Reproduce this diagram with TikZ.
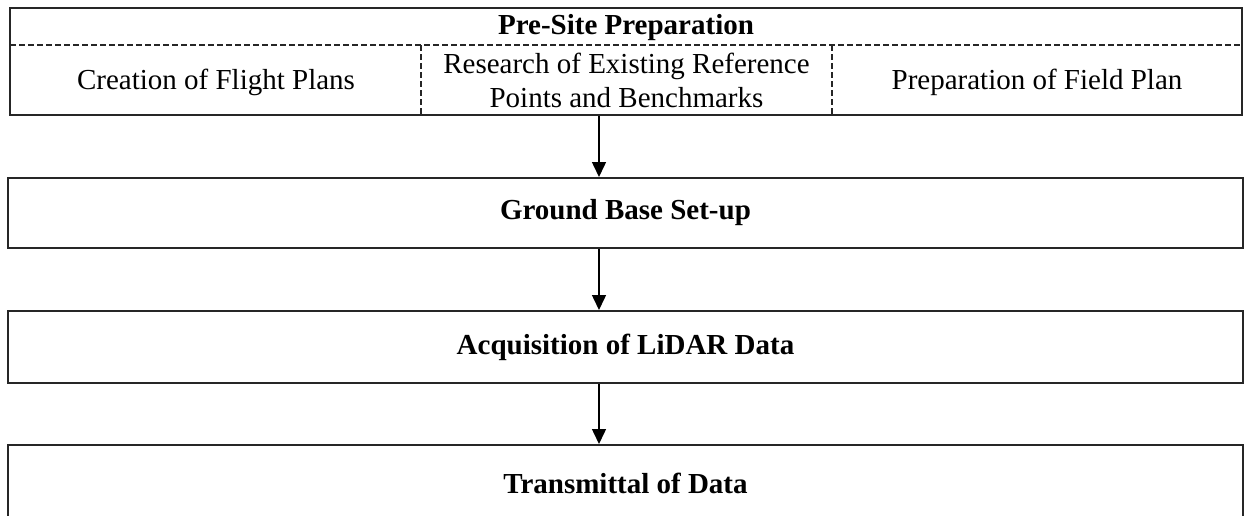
\documentclass[tikz,border=0pt]{standalone}
\usepackage{fontspec}
\setmainfont{Liberation Serif}
\usetikzlibrary{arrows.meta,fit}
\tikzset{
  box/.style={draw=black!85, line width=1pt, inner sep=0pt, fill=none},
  dline/.style={draw=black!85, line width=0.6pt, dash pattern=on 3pt off 1.5pt},
  lbl/.style={font=\fontsize{14.5}{17}\selectfont, align=center, inner sep=0pt},
  blbl/.style={font=\fontsize{14.5}{17}\selectfont\bfseries, align=center, inner sep=0pt},
  flowarrow/.style={draw=black, line width=0.75pt, -{Triangle[width=7pt,length=7.5pt]}}
}
\begin{document}
\begin{tikzpicture}[x=0.5pt,y=-0.5pt]
\useasboundingbox (0,0) rectangle (1244,515);
\clip (0,0) rectangle (1244,515);
% boxes
\node[box, fit={(10,8) (1242,115)}] (pre) {};
\node[box, fit={(8,178) (1243,248)}] (gb) {};
\node[box, fit={(8,311) (1243,383)}] (acq) {};
\node[box, fit={(8,445) (1243,521)}] (tr) {};
\node[blbl] (gbt) at (gb.center) {Ground Base Set-up};
\node[blbl] (acqt) at (acq.center) {Acquisition of LiDAR Data};
\node[blbl] (trt) at (tr.center) {Transmittal of Data};
% top box internals
\coordinate (dl) at (10,45);
\coordinate (dr) at (1242,45);
\coordinate (v1) at (421,45);
\coordinate (v2) at (832,45);
\draw[dline] (dl) -- (dr);
\draw[dline] (v1) -- (v1 |- pre.south);
\draw[dline] (v2) -- (v2 |- pre.south);
\node[blbl] (head) at (626,28) {Pre-Site Preparation};
\node[lbl] (cfp) at (216,82) {Creation of Flight Plans};
\node[lbl] (rer) at (626.5,80) {Research of Existing Reference\\Points and Benchmarks};
\node[lbl] (pfp) at (1037,82) {Preparation of Field Plan};
% arrows
\coordinate (ax) at (599,0);
\draw[flowarrow] (pre.south -| ax) -- (gb.north -| ax);
\draw[flowarrow] (gb.south -| ax) -- (acq.north -| ax);
\draw[flowarrow] (acq.south -| ax) -- (tr.north -| ax);
\end{tikzpicture}
\end{document}
